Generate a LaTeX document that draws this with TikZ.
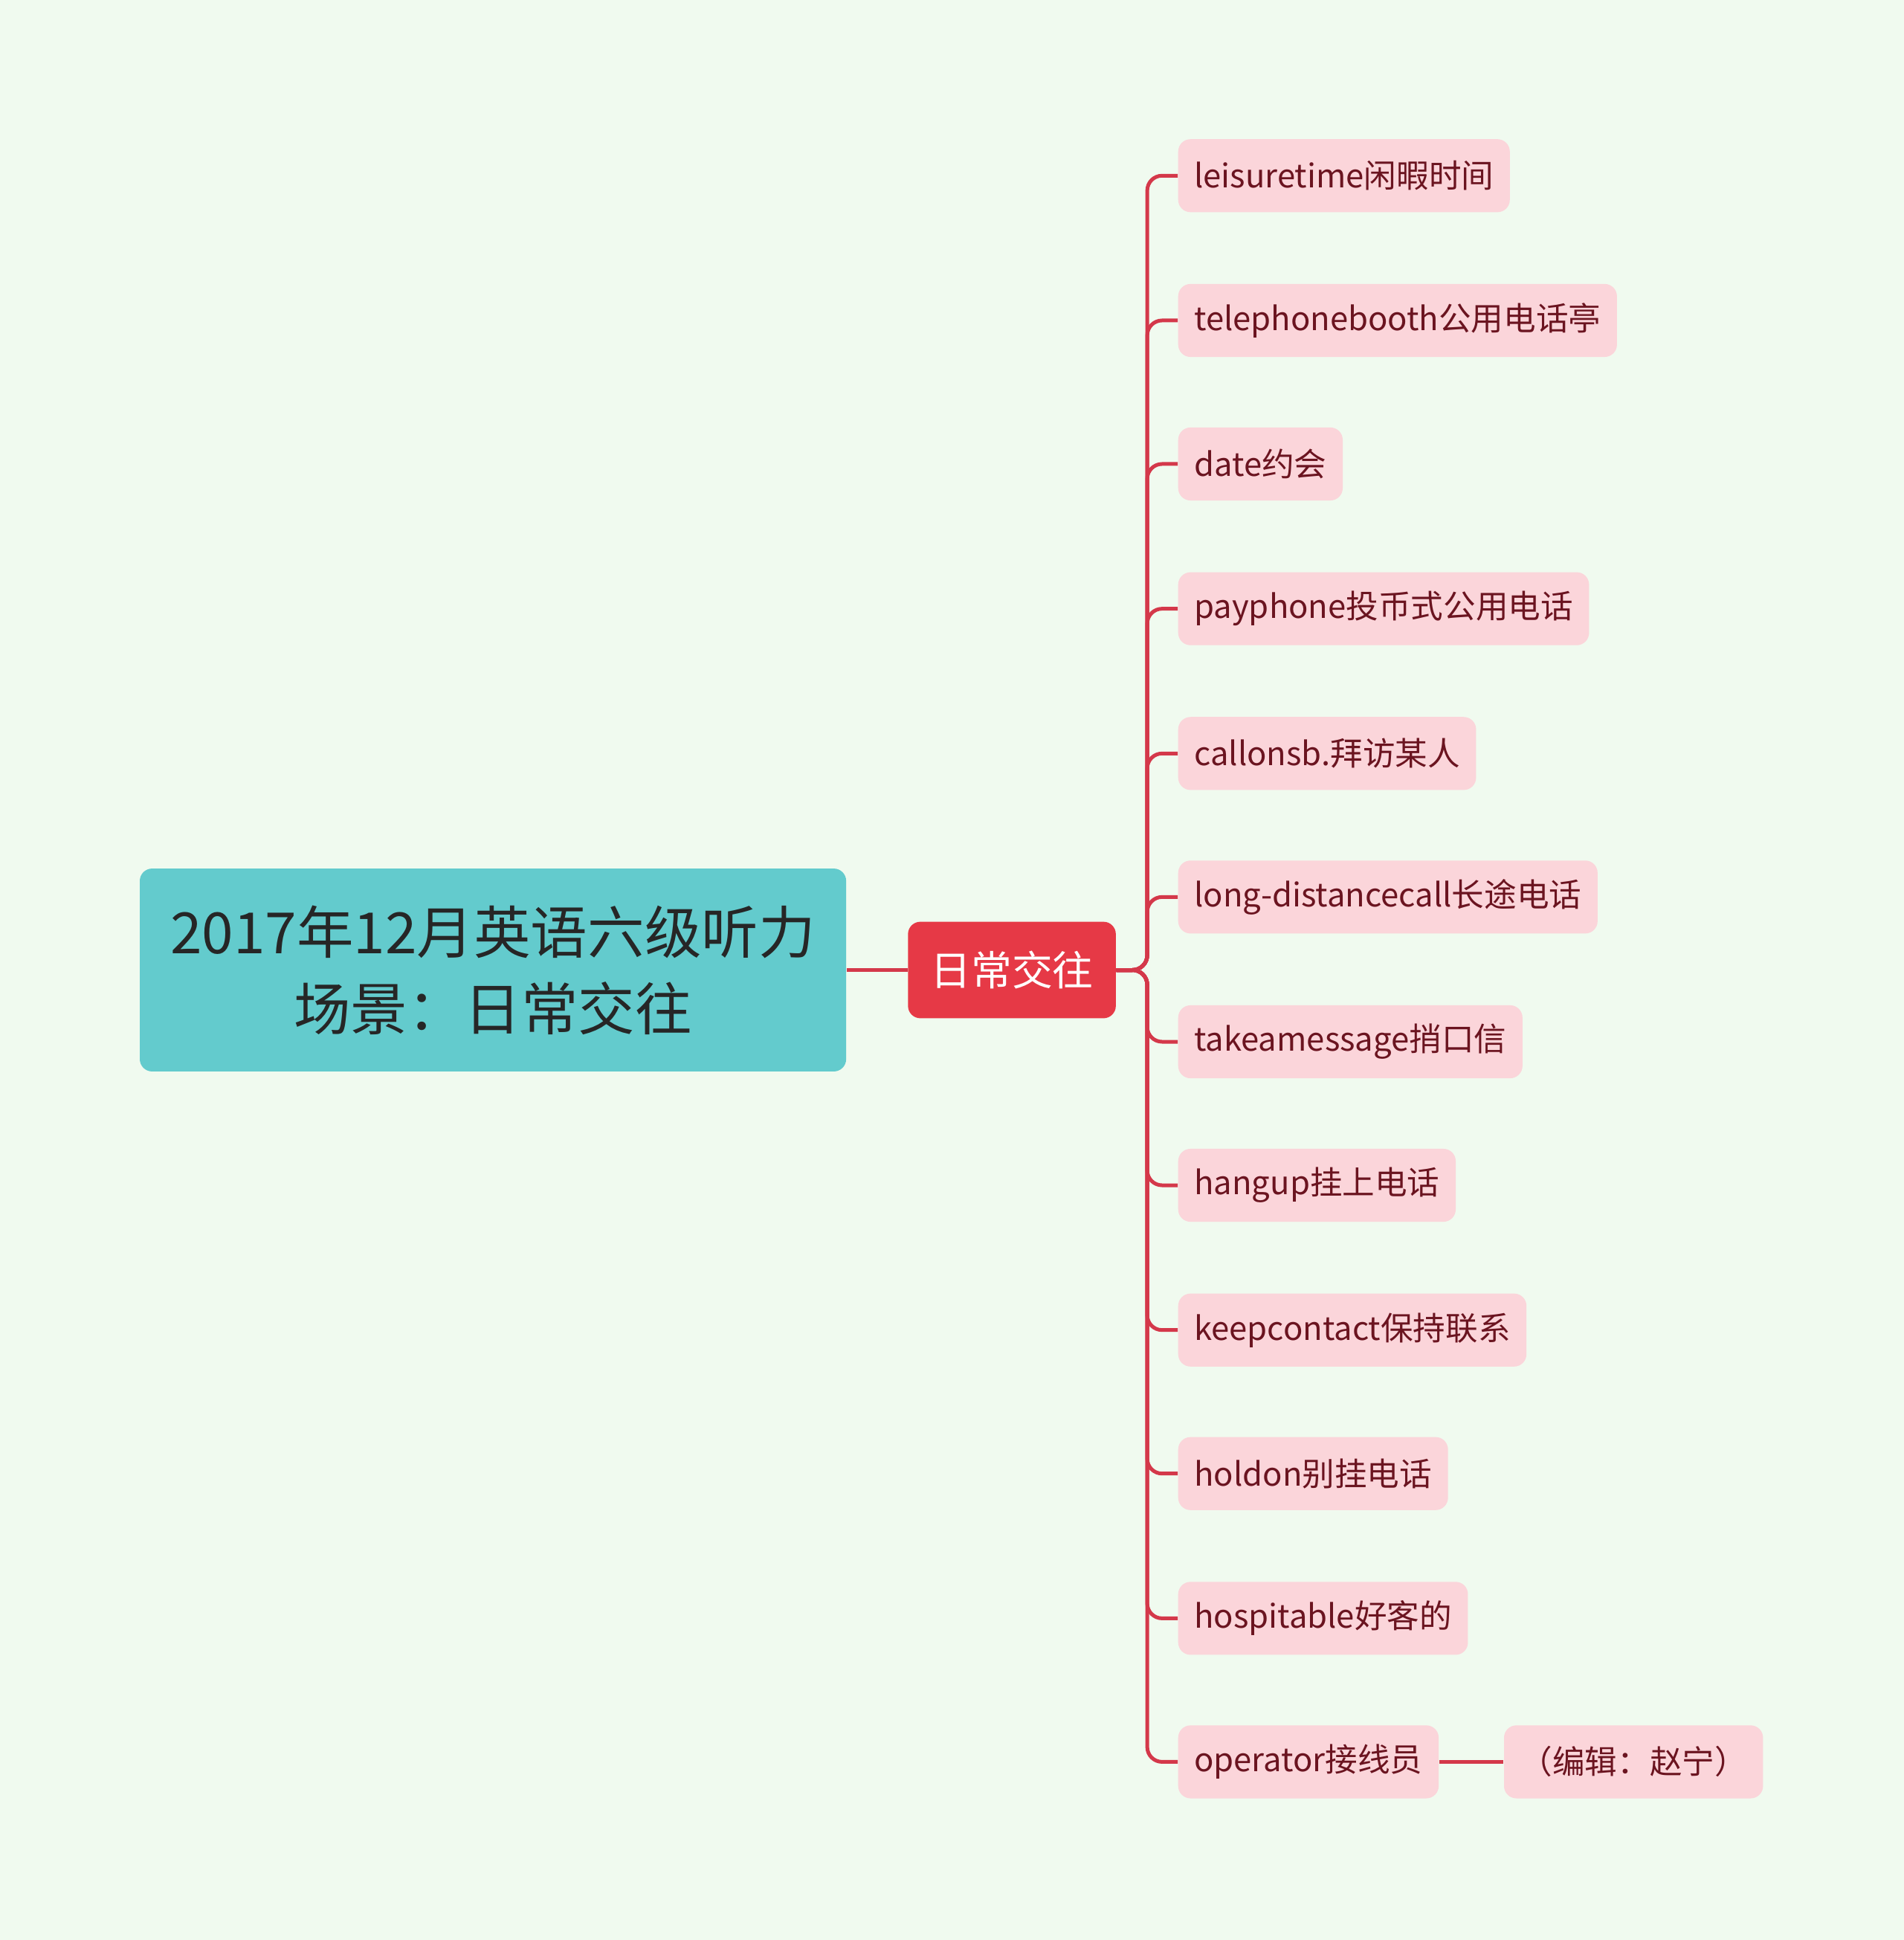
\documentclass[tikz,border=0pt]{standalone}
\usepackage{fontspec}
\setmainfont{Noto Sans CJK SC}
\definecolor{bg}{HTML}{F0FAEF}
\definecolor{rootc}{HTML}{63CBCD}
\definecolor{midc}{HTML}{E63946}
\definecolor{leafc}{HTML}{FBD5DA}
\definecolor{leaft}{HTML}{6B1420}
\definecolor{linec}{HTML}{D4384A}
\begin{document}
\begin{tikzpicture}[x=0.5pt,y=-0.5pt,
  leaf/.style={fill=leafc,rounded corners=5pt,text=leaft,font=\fontsize{13.1}{15}\selectfont,minimum height=29.5pt,inner xsep=6.5pt,anchor=west},
  conn/.style={draw=linec,line width=1.5pt,rounded corners=6pt}]
\fill[bg] (0,0) rectangle (1539,1568);
\node[fill=rootc,rounded corners=5pt,minimum width=285.5pt,minimum height=82pt,text=black!85,align=center,font=\fontsize{23}{31}\selectfont] (root) at (398.5,784) {2017年12月英语六级听力\\场景：日常交往};
\node[fill=midc,rounded corners=5pt,minimum width=84pt,minimum height=39pt,text=white,font=\fontsize{16.5}{18}\selectfont] (mid) at (818,784) {日常交往};
\draw[conn] (root.east) -- (mid.west);
\foreach \n/\y/\t in {1/142/leisuretime闲暇时间,2/259/telephonebooth公用电话亭,3/375/date约会,4/492/payphone投币式公用电话,5/609/callonsb.拜访某人,6/725/long-distancecall长途电话,7/842/takeamessage捎口信,8/958/hangup挂上电话,9/1075/keepcontact保持联系,10/1191/holdon别挂电话,11/1308/hospitable好客的,12/1424/operator接线员}{
  \node[leaf] (l\n) at (952,\y) {\t};
  \draw[conn] (mid.east) -- ++(25,0) |- (l\n.west);
}
\node[leaf,minimum width=104.5pt,anchor=center] (ed) at (1320.5,1424) {（编辑：赵宁）};
\draw[conn] (l12.east) -- (ed.west);
\end{tikzpicture}
\end{document}
